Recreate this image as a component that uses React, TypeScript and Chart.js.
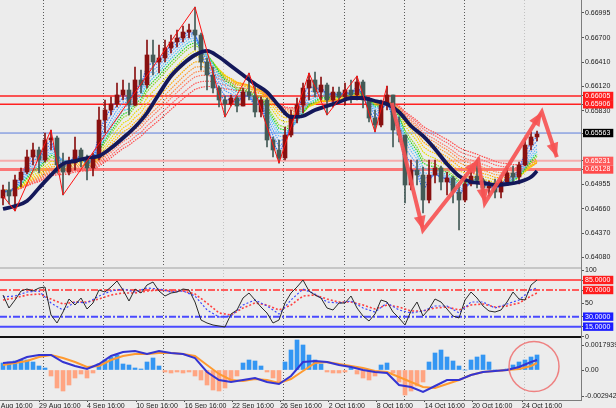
import React, { useEffect, useRef } from 'react';
import { Chart, registerables } from 'chart.js';

Chart.register(...registerables);

// ---------------- time axis ----------------
const xTickPos = [-2, 6, 14, 22.2, 30.3, 38.2, 46.2, 54.3, 62.3, 70.3, 78.2, 86.5];
const xTickLabels = ['25 Aug 16:00', '29 Aug 16:00', '4 Sep 16:00', '10 Sep 16:00', '16 Sep 16:00', '22 Sep 16:00', '26 Sep 16:00', '2 Oct 16:00', '8 Oct 16:00', '14 Oct 16:00', '20 Oct 16:00', '24 Oct 16:00'];
const weekSeparators = [6.7, 16.7, 26.7, 36.8, 46.8, 56.9, 66.9, 76.9, 86.9];
const weekSeparatorFaint = [false, false, false, true, false, false, false, false, true];

// ---------------- candles (bar index 0..89) ----------------
const opens = [0.64788, 0.64883, 0.64812, 0.65003, 0.65098, 0.65277, 0.65361, 0.65241, 0.65480, 0.65504,
  0.65182, 0.65098, 0.65205, 0.65361, 0.65241, 0.65146, 0.65265, 0.65718, 0.65838, 0.65909,
  0.66017, 0.66076, 0.65897, 0.66196, 0.66136, 0.66494, 0.66410, 0.66458, 0.66577, 0.66649,
  0.66697, 0.66768, 0.66792, 0.66732, 0.66410, 0.66255, 0.66100, 0.65957, 0.65909, 0.65981,
  0.65885, 0.66052, 0.66005, 0.65814, 0.65957, 0.65480, 0.65361, 0.65265, 0.65539, 0.65778,
  0.65897, 0.66100, 0.66196, 0.66052, 0.66136, 0.65957, 0.66052, 0.65993, 0.66076, 0.66017,
  0.66172, 0.65957, 0.65742, 0.65659, 0.65897, 0.66017, 0.65599, 0.65539, 0.64943, 0.65122,
  0.65062, 0.64764, 0.65062, 0.65146, 0.64979, 0.65027, 0.64859, 0.64764, 0.64955, 0.65050,
  0.65003, 0.64907, 0.64931, 0.64859, 0.64979, 0.65086, 0.65038, 0.65182, 0.65420, 0.65516];
const highs = [0.64943, 0.64979, 0.65062, 0.65146, 0.65361, 0.65444, 0.65396, 0.65563, 0.65599, 0.65528,
  0.65325, 0.65277, 0.65516, 0.65384, 0.65301, 0.65325, 0.65874, 0.65957, 0.65993, 0.66160,
  0.66196, 0.66160, 0.66351, 0.66315, 0.66673, 0.66673, 0.66613, 0.66673, 0.66732, 0.66792,
  0.66840, 0.66864, 0.67066, 0.66756, 0.66458, 0.66351, 0.66124, 0.66005, 0.66017, 0.66005,
  0.66100, 0.66279, 0.66160, 0.65993, 0.65981, 0.65516, 0.65480, 0.65635, 0.65838, 0.65981,
  0.66160, 0.66279, 0.66291, 0.66231, 0.66160, 0.66112, 0.66112, 0.66160, 0.66196, 0.66243,
  0.66196, 0.65993, 0.65838, 0.65957, 0.66124, 0.66017, 0.65754, 0.65539, 0.65241, 0.65241,
  0.65158, 0.65241, 0.65241, 0.65170, 0.65098, 0.65050, 0.64943, 0.65050, 0.65146, 0.65241,
  0.65027, 0.64991, 0.65015, 0.65015, 0.65146, 0.65170, 0.65217, 0.65504, 0.65575, 0.65587];
const lows = [0.64704, 0.64716, 0.64633, 0.64919, 0.65074, 0.65182, 0.65086, 0.65217, 0.65361, 0.65086,
  0.64824, 0.65062, 0.65122, 0.65158, 0.65003, 0.65050, 0.65241, 0.65563, 0.65778, 0.65874,
  0.65957, 0.65778, 0.65885, 0.66041, 0.66100, 0.66255, 0.66279, 0.66410, 0.66518, 0.66589,
  0.66649, 0.66697, 0.66554, 0.66315, 0.66076, 0.66041, 0.65874, 0.65754, 0.65885, 0.65814,
  0.65885, 0.65957, 0.65754, 0.65754, 0.65396, 0.65277, 0.65205, 0.65241, 0.65516, 0.65683,
  0.65802, 0.65957, 0.65993, 0.65957, 0.65778, 0.65874, 0.65921, 0.65897, 0.65921, 0.65957,
  0.65862, 0.65695, 0.65575, 0.65635, 0.65838, 0.65396, 0.65456, 0.64728, 0.64883, 0.64943,
  0.64609, 0.64728, 0.64967, 0.64883, 0.64824, 0.64728, 0.64406, 0.64740, 0.64931, 0.64907,
  0.64812, 0.64812, 0.64788, 0.64788, 0.64943, 0.64979, 0.64955, 0.65170, 0.65361, 0.65468];
const closes = [0.64883, 0.64812, 0.65003, 0.65098, 0.65277, 0.65361, 0.65241, 0.65480, 0.65504, 0.65182,
  0.65098, 0.65205, 0.65361, 0.65241, 0.65146, 0.65265, 0.65718, 0.65838, 0.65909, 0.66017,
  0.66076, 0.65897, 0.66196, 0.66136, 0.66494, 0.66410, 0.66458, 0.66577, 0.66649, 0.66697,
  0.66768, 0.66792, 0.66732, 0.66410, 0.66255, 0.66100, 0.65957, 0.65909, 0.65981, 0.65885,
  0.66052, 0.66005, 0.65814, 0.65957, 0.65480, 0.65361, 0.65265, 0.65539, 0.65778, 0.65897,
  0.66100, 0.66196, 0.66052, 0.66136, 0.65957, 0.66052, 0.65993, 0.66076, 0.66017, 0.66172,
  0.65957, 0.65742, 0.65659, 0.65897, 0.66017, 0.65599, 0.65539, 0.64943, 0.65122, 0.65062,
  0.64764, 0.65062, 0.65146, 0.64979, 0.65027, 0.64859, 0.64764, 0.64955, 0.65050, 0.65003,
  0.64907, 0.64931, 0.64859, 0.64979, 0.65086, 0.65038, 0.65182, 0.65420, 0.65516, 0.65551];

// sampled lines (bar indices)
const lineIdx = [0, 2, 4, 6, 8, 10, 12, 14, 16, 18, 20, 22, 24, 26, 28, 30, 32, 34, 36, 38, 40, 42, 44,
  46, 48, 50, 52, 54, 56, 58, 60, 62, 64, 66, 68, 70, 72, 74, 76, 78, 80, 82, 84, 86, 88, 89];
const navyMA = [0.64657, 0.64692, 0.64752, 0.64907, 0.65062, 0.65194, 0.65229, 0.65265, 0.65289, 0.65384,
  0.65504, 0.65635, 0.65802, 0.66029, 0.66243, 0.66387, 0.66494, 0.66542, 0.66470, 0.66363,
  0.66255, 0.66148, 0.66052, 0.65885, 0.65754, 0.65766, 0.65838, 0.65885, 0.65933, 0.65981,
  0.65981, 0.65945, 0.65909, 0.65814, 0.65647, 0.65528, 0.65372, 0.65194, 0.65050, 0.64979,
  0.64967, 0.64943, 0.64955, 0.64979, 0.65038, 0.65110];

// moving-average ribbon periods (bars) computed from closes
const ribbonPeriods = [2, 3, 4, 5, 6, 7, 8, 10, 12, 14, 16, 18, 20, 23, 26];
const ribbonColors = ['#2f6bff', '#3f86ff', '#52a0ff', '#6ab8ff', '#35c8e8', '#22d422', '#8ed81f', '#e8dc00',
  '#ffc800', '#ffab00', '#ff9830', '#ff8648', '#ff7460', '#ff6262', '#ff4a4a'];

// zigzag vertices
const zigX = [0, 2, 8, 10, 32, 37, 41, 46, 51, 54, 59, 62, 64];
const zigY = [0.64812, 0.64633, 0.65599, 0.64824, 0.67066, 0.65754, 0.66279, 0.65205, 0.66279, 0.65778, 0.66243, 0.65575, 0.66124];

// hand-drawn arrows path
const arrowX = [64.8, 70, 79.2, 80.3, 89.8, 92.3];
const arrowY = [0.65921, 0.64406, 0.65241, 0.64728, 0.65814, 0.65277];

// price axis
const priceTicks = [0.66995, 0.66700, 0.66410, 0.66120, 0.65830, 0.64955, 0.64660, 0.64370, 0.64080];
const priceLevels = [0.66005, 0.65906, 0.65563, 0.65231, 0.65128];
const priceLevelBox = ['#ff1c1c', '#ff1c1c', '#000000', '#ff5a5a', '#ff4a4a'];
const priceLevelStyles = [
  { color: '#ff2020', width: 1.5, dash: [] },
  { color: '#ff2020', width: 1.5, dash: [] },
  { color: '#5b7ddb', width: 1, dash: [] },
  { color: 'rgba(255,120,120,0.55)', width: 2, dash: [] },
  { color: 'rgba(255,90,90,0.8)', width: 3, dash: [] },
];

// RSI panel
const rsiBlack = [62.5, 43, 55, 68.5, 71.5, 68.5, 73, 74.5, 32.5, 20.5,
  37, 56.5, 47.5, 58, 41.5, 50.5, 70, 67, 74.5, 83.5,
  70, 53.5, 71.5, 65.5, 77.5, 82, 68.5, 61, 65.5, 67,
  71.5, 70, 52, 25, 20.5, 17.5, 16, 14.5, 34, 40,
  58, 65.5, 55, 44.5, 35.5, 20.5, 25, 50.5, 65.5, 74.5,
  85, 68.5, 62.5, 58, 43, 40, 50.5, 50.5, 61, 43,
  31, 23.5, 34, 55, 52, 37, 28, 17.5, 38.5, 52,
  31, 41.5, 56.5, 52, 41.5, 31, 28, 55, 67, 58,
  46, 38.5, 37, 40, 52, 67, 56.5, 55, 77.5, 85];
const rsiBlue = [59.6, 61, 67, 68.5, 50.5, 40, 52, 50.5, 61, 68.5, 71.5, 67, 73, 71.5, 67, 68.5, 61, 40, 29.5, 31,
  47.5, 55, 46, 34, 55, 71.5, 64, 52, 50.5, 53.5, 43, 37, 50.5, 40, 35.5, 38.5, 46, 46, 35.5, 52,
  52, 43, 49, 55, 70, 73];
const rsiRed = [55, 58, 62.5, 64, 56.5, 49, 52, 52, 56.5, 62.5, 65.5, 65.5, 68.5, 70, 68.5, 68.5, 64, 50.5, 35.5, 32.5,
  43, 50.5, 47.5, 40, 47.5, 61, 62.5, 56.5, 52, 52, 47.5, 41.5, 47.5, 44.5, 38.5, 38.5, 43, 44.5, 40, 47.5,
  49, 44.5, 46, 50.5, 61, 65.5];
const rsiTicks = [100, 50, 0];
const rsiLevels = [85, 70, 30, 15];
const rsiLevelBox = ['#ff1c1c', '#ff1c1c', '#1e1eff', '#1e1eff'];
const rsiLevelStyles = [
  { color: '#ff5c5c', width: 2, dash: [] },
  { color: '#ff5c5c', width: 2, dash: [7, 2, 2, 2] },
  { color: '#4a4aff', width: 2, dash: [7, 2, 2, 2] },
  { color: '#4a4aff', width: 2, dash: [] },
];

// MACD panel
const macdHist = [0.0007, 0.0008, 0.0009, 0.0010, 0.0010, 0.0008, 0.0004, 0.0002, -0.0006, -0.0018,
  -0.0021, -0.0015, -0.0008, -0.0004, -0.0008, -0.0003, 0.0006, 0.0010, 0.0013, 0.0015,
  0.0006, 0.0005, 0.0002, 0.0001, 0.0008, 0.0012, 0.0004, -0.0002, -0.0003, -0.0002,
  -0.0003, -0.0002, -0.0006, -0.0010, -0.0015, -0.0020, -0.0021, -0.0018, -0.0011, -0.0006,
  0.0007, 0.0010, 0.0009, 0.0004, -0.0002, -0.0008, -0.0012, 0.0008, 0.0020, 0.0030,
  0.0025, 0.0015, 0.0010, 0.0006, -0.0002, -0.0003, -0.0003, -0.0002, 0.0002, -0.0004,
  -0.0008, -0.0010, -0.0006, 0.0005, 0.0007, -0.0003, -0.0012, -0.0025, -0.0021, -0.0016,
  -0.0012, 0.0008, 0.0017, 0.0020, 0.0013, 0.0009, 0.0004, 0.0000, 0.0010, 0.0013,
  0.0015, 0.0008, 0.0000, -0.0001, 0.0001, 0.0005, 0.0008, 0.0010, 0.0013, 0.0015];
const macdMain = [0.0007, 0.0008, 0.0013, 0.0015, 0.0015, 0.0008, 0.0004, 0.0001, 0.0006, 0.0014,
  0.0018, 0.0019, 0.0016, 0.0019, 0.0017, 0.0016, 0.0012, -0.0002, -0.0010, -0.0012,
  -0.0010, -0.0008, -0.0012, -0.0014, -0.0006, 0.0008, 0.0009, 0.0008, 0.0005, 0.0003,
  0, -0.0002, -0.0003, -0.0015, -0.0017, -0.0022, -0.0016, -0.0010, -0.0010, -0.0005,
  -0.0002, -0.0001, 0, 0.0003, 0.0008, 0.0010];
const macdSignal = [0.0005, 0.0007, 0.0009, 0.0013, 0.0015, 0.0012, 0.0008, 0.0003, 0.0004, 0.0010,
  0.0014, 0.0016, 0.0016, 0.0017, 0.0017, 0.0016, 0.0014, 0.0005, -0.0004, -0.0010,
  -0.0011, -0.0009, -0.0010, -0.0013, -0.0009, -0.0001, 0.0007, 0.0008, 0.0006, 0.0004,
  0.0002, -0.0001, -0.0002, -0.0007, -0.0012, -0.0017, -0.0018, -0.0014, -0.0010, -0.0005,
  -0.0002, -0.0001, 0, 0.0001, 0.0004, 0.0007];
const macdTicks = [0.0025, 0, -0.0026];
const macdTickLabels = ['0.0017939', '0.00', '-0.002942'];
const circleX = [88.5];
const circleY = [0.00035];

// ---------------- helpers ----------------
const BULL = '#881010';
const BEAR = '#435a56';
const FONT = { family: 'Liberation Sans, Arial, sans-serif', size: 7 };
const TEXT = '#1a1a1a';

function ema(src: number[], period: number): number[] {
  const k = 2 / (period + 1);
  const out: number[] = [];
  let prev = src[0];
  src.forEach((v, i) => {
    prev = i === 0 ? v : prev + k * (v - prev);
    out.push(prev);
  });
  return out;
}

const levelsPlugin = {
  id: 'levels',
  beforeDatasetsDraw(chart: any) {
    const { ctx, chartArea } = chart;
    const draw = (scale: any, values: number[], styles: any[]) => {
      values.forEach((v, k) => {
        const y = scale.getPixelForValue(v);
        const st = styles[k];
        ctx.save();
        ctx.strokeStyle = st.color;
        ctx.lineWidth = st.width;
        ctx.setLineDash(st.dash);
        ctx.beginPath();
        ctx.moveTo(chartArea.left, y);
        ctx.lineTo(chartArea.right, y);
        ctx.stroke();
        ctx.restore();
      });
    };
    draw(chart.scales.yP, priceLevels, priceLevelStyles);
    draw(chart.scales.yR, rsiLevels, rsiLevelStyles);
  },
  afterDatasetsDraw(chart: any) {
    const { ctx, chartArea } = chart;
    const sep = (y: number, color: string, w: number) => {
      ctx.save();
      ctx.strokeStyle = color;
      ctx.lineWidth = w;
      ctx.beginPath();
      ctx.moveTo(chartArea.left, y);
      ctx.lineTo(chartArea.right, y);
      ctx.stroke();
      ctx.restore();
    };
    sep(chart.scales.yR.top, '#c6c6c6', 2);
    sep(chart.scales.yM.top, '#111111', 2);
  },
};

const arrowHeadPlugin = {
  id: 'arrowHeads',
  afterDatasetsDraw(chart: any) {
    const ctx = chart.ctx;
    chart.data.datasets.forEach((ds: any, di: number) => {
      if (!ds.arrowHeads) return;
      const pts = chart.getDatasetMeta(di).data;
      ctx.save();
      ctx.fillStyle = ds.borderColor;
      for (let k = 1; k < pts.length; k++) {
        const a = pts[k - 1];
        const b = pts[k];
        const ang = Math.atan2(b.y - a.y, b.x - a.x);
        const L = 14;
        const W = 6;
        const bx = b.x - L * Math.cos(ang);
        const by = b.y - L * Math.sin(ang);
        ctx.beginPath();
        ctx.moveTo(b.x, b.y);
        ctx.lineTo(bx + W * Math.sin(ang), by - W * Math.cos(ang));
        ctx.lineTo(bx - W * Math.sin(ang), by + W * Math.cos(ang));
        ctx.closePath();
        ctx.fill();
      }
      ctx.restore();
    });
  },
};

function yAxisBase(extra: any) {
  return {
    type: 'linear',
    position: 'right',
    stack: 'panes',
    offset: false,
    afterFit: (s: any) => {
      s.width = 35;
      s.paddingTop = 0;
      s.paddingBottom = 0;
    },
    grid: { drawOnChartArea: false, drawTicks: true, tickLength: 3, color: '#555', tickColor: '#555', offset: false },
    border: { display: true, color: '#7c7c7c', width: 1 },
    ...extra,
  };
}

function buildConfig(): any {
  const xy = (xs: number[], ys: number[]) => xs.map((x, k) => ({ x, y: ys[k] }));
  const barIdx = closes.map((_, i) => i);

  const ribbon = ribbonPeriods.map((p, k) => ({
    type: 'line',
    label: 'EMA' + p,
    data: xy(barIdx, ema(closes, p)),
    xAxisID: 'x',
    yAxisID: 'yP',
    borderColor: ribbonColors[k],
    borderWidth: 1.2,
    borderDash: [1.5, 1],
    pointRadius: 0,
    order: 20 + k,
  }));

  const datasets: any[] = [
    ...ribbon,
    {
      type: 'bar', label: 'wick',
      data: barIdx.map((i) => ({ x: i, y: [lows[i], highs[i]] })),
      xAxisID: 'x', yAxisID: 'yP',
      backgroundColor: (c: any) => (closes[c.dataIndex] >= opens[c.dataIndex] ? BULL : BEAR),
      barThickness: 1, grouped: false, order: 7,
    },
    {
      type: 'bar', label: 'body',
      data: barIdx.map((i) => ({ x: i, y: [opens[i], closes[i]] })),
      xAxisID: 'x', yAxisID: 'yP',
      backgroundColor: (c: any) => (closes[c.dataIndex] >= opens[c.dataIndex] ? BULL : BEAR),
      barThickness: 4, minBarLength: 1, grouped: false, order: 6,
    },
    {
      type: 'line', label: 'MA', data: xy(lineIdx, navyMA), xAxisID: 'x', yAxisID: 'yP',
      borderColor: '#14185a', borderWidth: 3.8, pointRadius: 0, cubicInterpolationMode: 'monotone', order: 3,
    },
    {
      type: 'line', label: 'ZigZag', data: xy(zigX, zigY), xAxisID: 'x', yAxisID: 'yP',
      borderColor: '#ff1010', borderWidth: 1, pointRadius: 0, order: 2,
    },
    {
      type: 'line', label: 'arrows', data: xy(arrowX, arrowY), xAxisID: 'x', yAxisID: 'yP',
      borderColor: 'rgba(246,84,84,0.92)', borderWidth: 4, pointRadius: 0, order: 1, arrowHeads: true,
      borderJoinStyle: 'miter', clip: false,
    },
    // RSI
    {
      type: 'line', label: 'RSI fast', data: xy(barIdx, rsiBlack), xAxisID: 'x', yAxisID: 'yR',
      borderColor: '#2a2a2a', borderWidth: 1, pointRadius: 0, order: 2,
    },
    {
      type: 'line', label: 'RSI mid', data: xy(lineIdx, rsiBlue), xAxisID: 'x', yAxisID: 'yR',
      borderColor: '#3c46ff', borderWidth: 1.2, borderDash: [2, 2], pointRadius: 0, order: 3,
    },
    {
      type: 'line', label: 'RSI slow', data: xy(lineIdx, rsiRed), xAxisID: 'x', yAxisID: 'yR',
      borderColor: '#ff4040', borderWidth: 1.6, borderDash: [2, 2], pointRadius: 0, order: 4,
    },
    // MACD
    {
      type: 'bar', label: 'hist', data: xy(barIdx, macdHist), xAxisID: 'x', yAxisID: 'yM',
      backgroundColor: (c: any) => (macdHist[c.dataIndex] >= 0 ? '#3396f3' : '#ffa582'),
      barThickness: 4, grouped: false, order: 8,
    },
    {
      type: 'line', label: 'MACD', data: xy(lineIdx, macdMain), xAxisID: 'x', yAxisID: 'yM',
      borderColor: '#3434d2', borderWidth: 2, pointRadius: 0, order: 3,
    },
    {
      type: 'line', label: 'Signal', data: xy(lineIdx, macdSignal), xAxisID: 'x', yAxisID: 'yM',
      borderColor: '#ff9a30', borderWidth: 2, pointRadius: 0, order: 4,
    },
    {
      type: 'line', label: 'mark', data: xy(circleX, circleY), xAxisID: 'x', yAxisID: 'yM',
      showLine: false, pointRadius: 25, pointBorderWidth: 1.5,
      pointBorderColor: 'rgba(238,110,110,0.85)', pointBackgroundColor: 'rgba(0,0,0,0)', order: 0, clip: false,
    },
  ];

  return {
    type: 'line',
    data: { datasets },
    plugins: [levelsPlugin, arrowHeadPlugin],
    options: {
      responsive: false,
      animation: false,
      events: [],
      layout: { padding: 0, autoPadding: false },
      plugins: { legend: { display: false }, tooltip: { enabled: false } },
      scales: {
        x: {
          type: 'linear', position: 'bottom', min: -0.5, max: 96.33, offset: false,
          afterBuildTicks: (s: any) => {
            s.ticks = [
              ...xTickPos.map((v) => ({ value: v, kind: 'label' })),
              ...weekSeparators.map((v, k) => ({ value: v, kind: weekSeparatorFaint[k] ? 'faint' : 'sep' })),
            ];
          },
          afterFit: (s: any) => {
            s.height = 8;
            s.paddingLeft = 0;
            s.paddingRight = 0;
          },
          ticks: {
            autoSkip: false, maxRotation: 0, minRotation: 0, align: 'start', padding: 0,
            font: FONT, color: TEXT,
            callback: (_v: any, i: number) => (i < xTickLabels.length ? xTickLabels[i] : ''),
          },
          grid: {
            offset: false, drawOnChartArea: true, drawTicks: true, tickLength: 2, lineWidth: 1,
            color: (c: any) => (c.tick && c.tick.kind === 'sep' ? '#5a5a5a' : c.tick && c.tick.kind === 'faint' ? '#c2c2c2' : 'rgba(0,0,0,0)'),
            tickColor: (c: any) => (c.tick && c.tick.kind === 'label' ? '#444' : 'rgba(0,0,0,0)'),
          },
          border: { display: true, color: '#7c7c7c', width: 1, dash: [1, 2] },
        },
        yP: yAxisBase({
          stackWeight: 268, min: 0.63953, max: 0.6715,
          afterBuildTicks: (s: any) => {
            s.ticks = [
              ...priceTicks.map((v) => ({ value: v })),
              ...priceLevels.map((v, k) => ({ value: v, lvl: k })),
            ];
          },
          ticks: {
            autoSkip: false, font: FONT, padding: 1,
            color: (c: any) => (c.tick && c.tick.lvl !== undefined ? '#ffffff' : TEXT),
            showLabelBackdrop: (c: any) => !!(c.tick && c.tick.lvl !== undefined),
            backdropColor: (c: any) => (c.tick && c.tick.lvl !== undefined ? priceLevelBox[c.tick.lvl] : 'rgba(0,0,0,0)'),
            backdropPadding: { left: 2, right: 3, top: 0, bottom: 0 },
            callback: (v: any) => Number(v).toFixed(5),
          },
        }),
        yR: yAxisBase({
          stackWeight: 69, min: -0.5, max: 103,
          afterBuildTicks: (s: any) => {
            s.ticks = [
              ...rsiTicks.map((v) => ({ value: v })),
              ...rsiLevels.map((v, k) => ({ value: v, lvl: k })),
            ];
          },
          ticks: {
            autoSkip: false, font: FONT, padding: 1,
            color: (c: any) => (c.tick && c.tick.lvl !== undefined ? '#ffffff' : TEXT),
            showLabelBackdrop: (c: any) => !!(c.tick && c.tick.lvl !== undefined),
            backdropColor: (c: any) => (c.tick && c.tick.lvl !== undefined ? rsiLevelBox[c.tick.lvl] : 'rgba(0,0,0,0)'),
            backdropPadding: { left: 2, right: 3, top: 0, bottom: 0 },
            callback: (v: any, i: number) => (i < rsiTicks.length ? String(v) : Number(v).toFixed(4)),
          },
        }),
        yM: yAxisBase({
          stackWeight: 63, min: -0.003, max: 0.0033,
          afterBuildTicks: (s: any) => {
            s.ticks = macdTicks.map((v) => ({ value: v }));
          },
          ticks: {
            autoSkip: false, font: FONT, padding: 1, color: TEXT,
            callback: (_v: any, i: number) => macdTickLabels[i],
          },
        }),
      },
    },
  };
}

export default function App() {
  const ref = useRef<HTMLCanvasElement | null>(null);
  useEffect(() => {
    if (!ref.current) return;
    const chart = new Chart(ref.current, buildConfig());
    return () => chart.destroy();
  }, []);
  return (
    <div style={{ position: 'fixed', left: 0, top: 0, width: 616, height: 408, background: '#ececec', overflow: 'hidden' }}>
      <canvas ref={ref} width={616} height={408} style={{ display: 'block' }} />
    </div>
  );
}
